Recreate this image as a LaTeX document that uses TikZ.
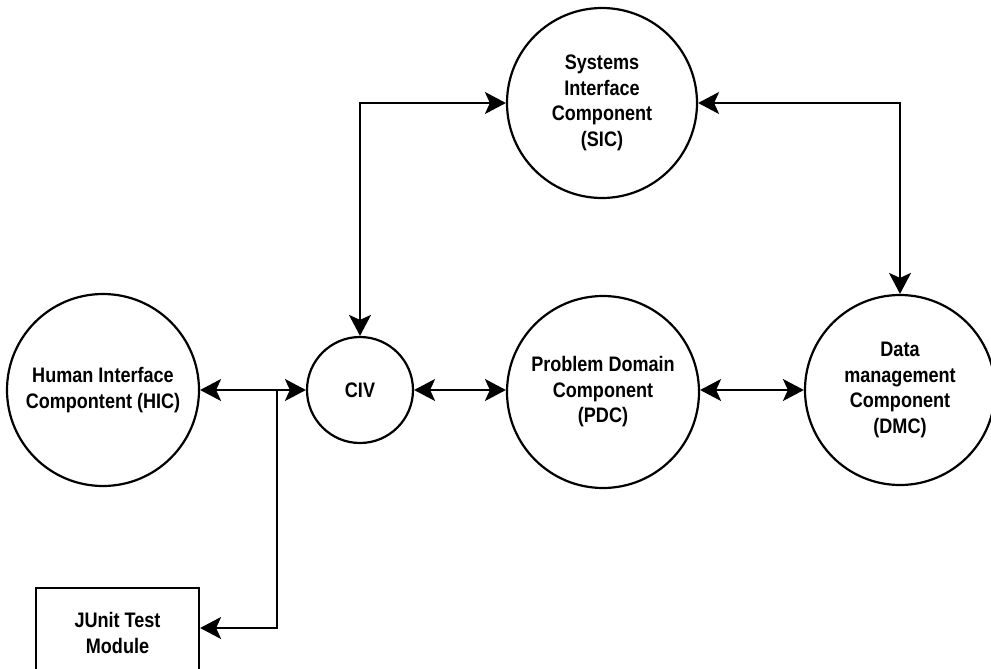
\documentclass[tikz,border=0pt]{standalone}
\usepackage{fontspec}
\setmainfont[FakeStretch=0.86]{Liberation Sans}
\usetikzlibrary{arrows.meta}

\tikzset{
  labelfont/.style={font=\fontsize{21}{25.5}\selectfont\bfseries},
  comp/.style={circle, draw, line width=2.2pt, inner sep=0pt, align=center, labelfont},
  boxnode/.style={rectangle, draw, line width=2.2pt, inner sep=0pt, align=center, labelfont},
  tipshape/.tip={Stealth[length=21pt,width=22pt,inset=5pt]},
  link/.style={line width=2pt},
  biarr/.style={link, tipshape-tipshape},
  onearr/.style={link, -tipshape},
}

\begin{document}
\begin{tikzpicture}[x=1pt, y=-1pt]
  \useasboundingbox (0,0) rectangle (991,669);

  % components
  \node[comp, minimum size=192pt] (hic) at (103,390) {Human Interface\\Compontent (HIC)};
  \node[comp, minimum size=106pt] (civ) at (360,390) {CIV};
  \node[comp, minimum size=192pt] (pdc) at (603,392) {Problem Domain\\Component\\(PDC)};
  \node[comp, minimum size=190pt] (sic) at (602,103) {Systems\\Interface\\Component\\(SIC)};
  \node[comp, minimum size=190pt] (dmc) at (900,390) {Data\\management\\Component\\(DMC)};
  \node[boxnode, minimum width=163pt, minimum height=90pt] (junit) at (117.5,633) {JUnit Test\\Module};

  % connectors
  \coordinate (split) at (277,390);
  \draw[biarr] (hic.east) -- (civ.west);
  \draw[onearr] (split) |- ([yshift=5pt]junit.east);
  \draw[biarr] (civ.north) |- (sic.west);
  \draw[biarr] (civ.east) -- (civ.east -| pdc.west);
  \draw[biarr] (pdc.east |- dmc.west) -- (dmc.west);
  \draw[biarr] (sic.east) -| (dmc.north);
\end{tikzpicture}
\end{document}
